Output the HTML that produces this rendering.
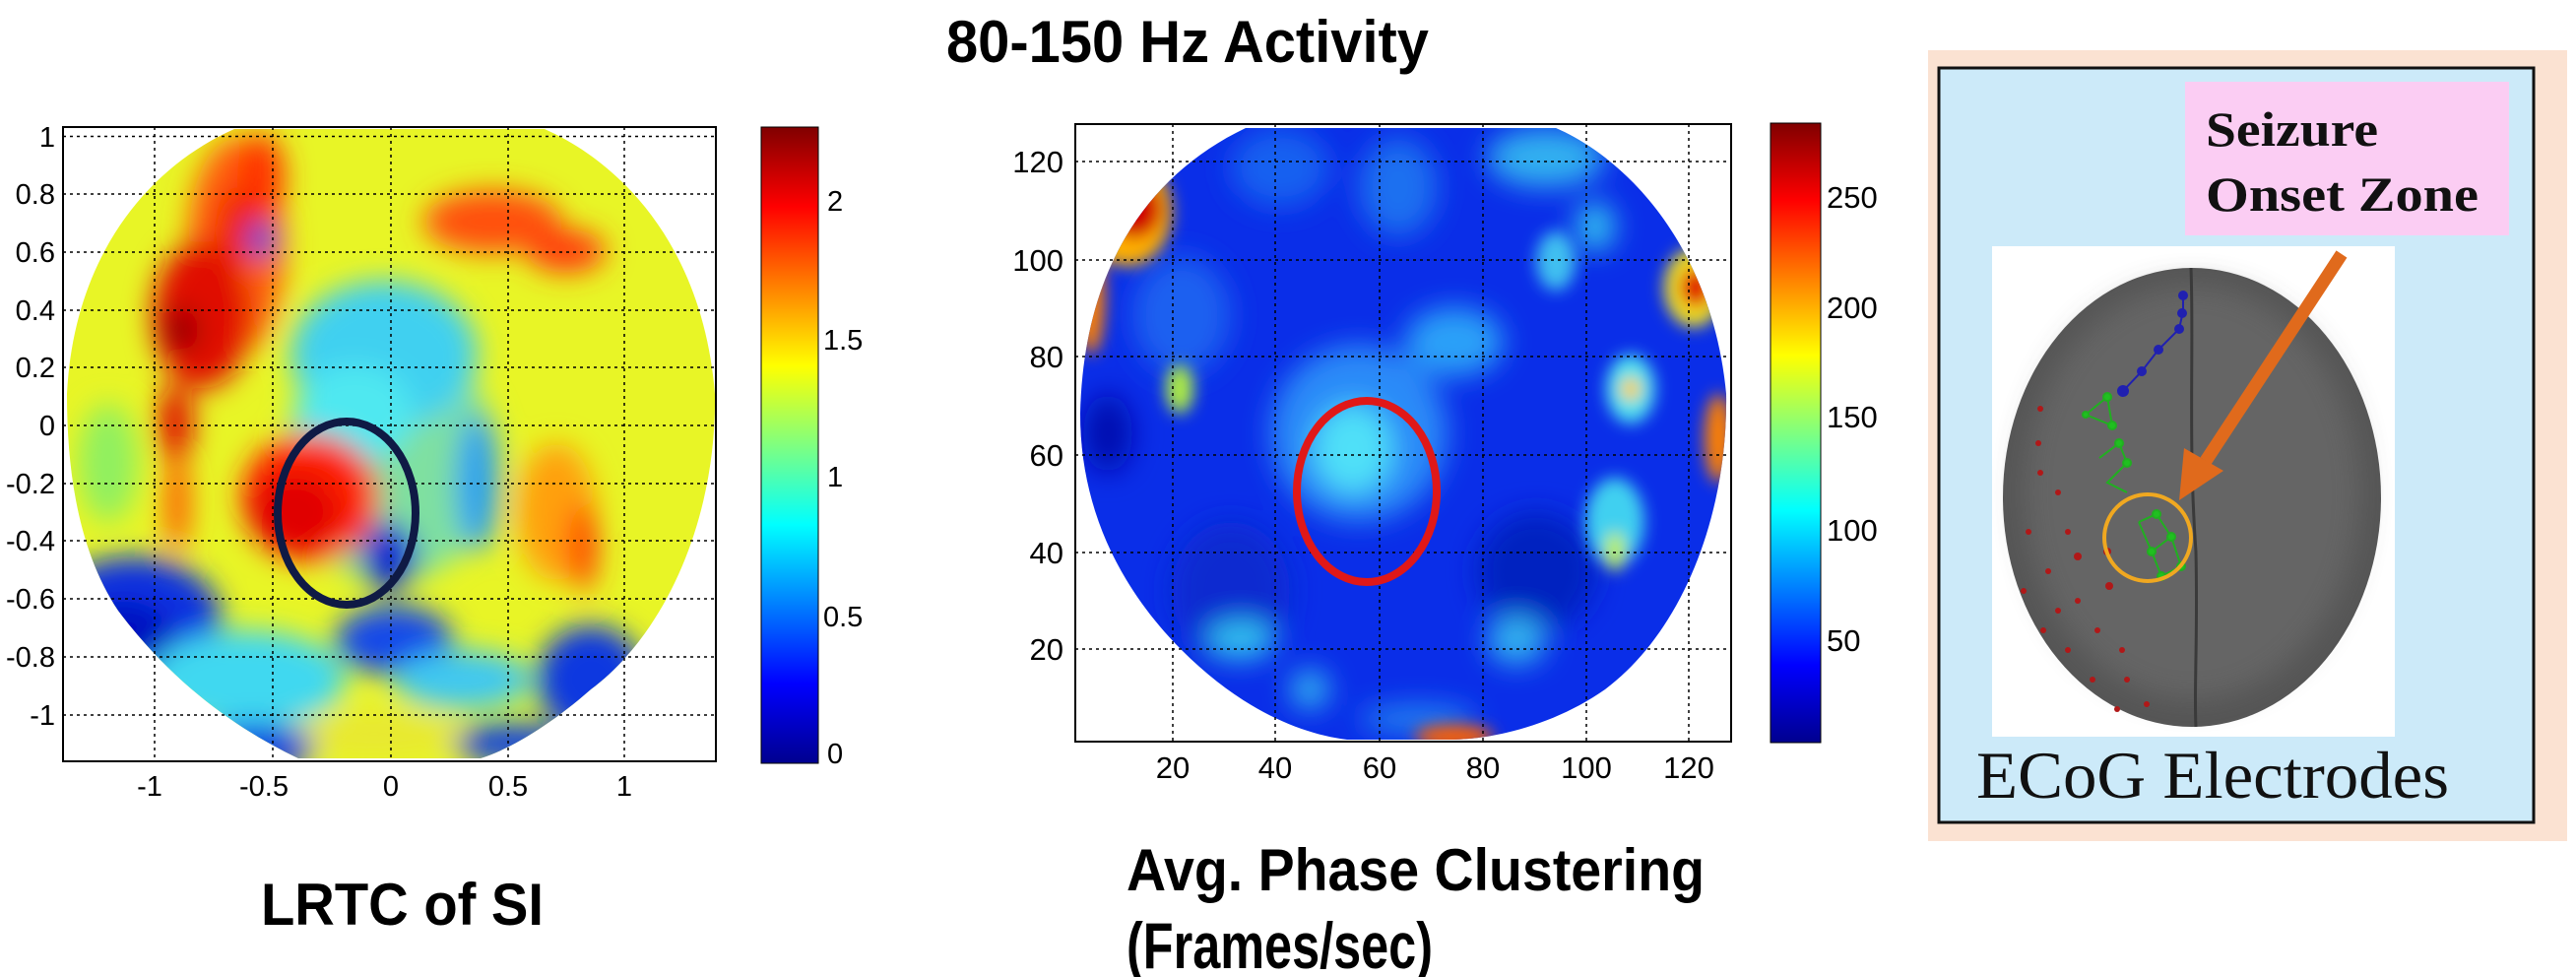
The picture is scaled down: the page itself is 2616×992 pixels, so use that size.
<!DOCTYPE html>
<html><head><meta charset="utf-8"><style>
html,body{margin:0;padding:0;background:#fff;}
svg{display:block;}
</style></head><body>
<svg width="2616" height="992" viewBox="0 0 2616 992" xmlns="http://www.w3.org/2000/svg">
<defs>
<linearGradient id="jet" x1="0" y1="1" x2="0" y2="0">
<stop offset="0" stop-color="#00008f"/><stop offset="0.125" stop-color="#0000ff"/>
<stop offset="0.375" stop-color="#00ffff"/><stop offset="0.625" stop-color="#ffff00"/>
<stop offset="0.875" stop-color="#ff0000"/><stop offset="1" stop-color="#800000"/>
</linearGradient>
<clipPath id="headL"><path d="M238,131 L553,131 C640,170 715,260 726,400 C728,520 680,640 600,700 C560,735 520,760 488,770 L303,770 C250,745 180,700 120,620 C80,560 68,480 68,400 C75,260 150,170 238,131 Z"/></clipPath>
<clipPath id="headM"><path d="M1265,130 L1580,130 C1660,165 1740,260 1753,400 C1755,520 1710,640 1630,700 C1580,735 1520,750 1477,751 L1368,751 C1320,745 1260,720 1200,660 C1140,600 1097,520 1097,420 C1100,280 1160,180 1265,130 Z"/></clipPath>
<filter id="bl" x="-20%" y="-20%" width="140%" height="140%"><feGaussianBlur stdDeviation="14"/></filter>
<filter id="bl2" x="-20%" y="-20%" width="140%" height="140%"><feGaussianBlur stdDeviation="8"/></filter>
</defs>

<text x="961" y="63" font-family="Liberation Sans, sans-serif" font-weight="bold" font-size="60" textLength="490" lengthAdjust="spacingAndGlyphs">80-150 Hz Activity</text>

<!-- LEFT PLOT -->
<g clip-path="url(#headL)">
<rect x="60" y="125" width="680" height="650" fill="#e8f526"/>
<g filter="url(#bl)">
<ellipse cx="397" cy="470" rx="110" ry="120" fill="#7fe0a0"/>
<ellipse cx="390" cy="360" rx="95" ry="75" fill="#40d0f0"/>
<ellipse cx="360" cy="420" rx="60" ry="50" fill="#50e8f0"/>
<ellipse cx="485" cy="490" rx="22" ry="70" fill="#2aa0f0"/>
<ellipse cx="240" cy="250" rx="50" ry="110" fill="#ff6010"/>
<ellipse cx="205" cy="320" rx="50" ry="75" fill="#e01000"/>
<ellipse cx="184" cy="335" rx="18" ry="22" fill="#900000"/>
<ellipse cx="265" cy="180" rx="24" ry="45" fill="#ff3000"/>
<ellipse cx="240" cy="230" rx="22" ry="40" fill="#f02000"/>
<ellipse cx="266" cy="243" rx="14" ry="18" fill="#1050e0"/>
<ellipse cx="178" cy="430" rx="18" ry="40" fill="#e01000"/>
<ellipse cx="180" cy="510" rx="12" ry="50" fill="#ff5000"/>
<ellipse cx="315" cy="505" rx="70" ry="65" fill="#ff2000"/>
<ellipse cx="300" cy="520" rx="45" ry="40" fill="#e00000"/>
<ellipse cx="395" cy="565" rx="28" ry="35" fill="#0020d0"/>
<ellipse cx="500" cy="225" rx="70" ry="32" fill="#ff5010"/>
<ellipse cx="575" cy="255" rx="40" ry="22" fill="#ff4010"/>
<ellipse cx="565" cy="520" rx="40" ry="70" fill="#ffa010"/>
<ellipse cx="592" cy="555" rx="14" ry="45" fill="#ff3000"/>
<ellipse cx="135" cy="630" rx="90" ry="65" fill="#1030e0"/>
<ellipse cx="125" cy="660" rx="55" ry="50" fill="#0008c0"/>
<ellipse cx="250" cy="690" rx="100" ry="50" fill="#40d8f0"/>
<ellipse cx="400" cy="650" rx="60" ry="35" fill="#1848e8"/>
<ellipse cx="470" cy="690" rx="70" ry="30" fill="#40c8f0"/>
<ellipse cx="600" cy="690" rx="55" ry="55" fill="#1038e0"/>
<ellipse cx="380" cy="745" rx="90" ry="22" fill="#e8e830"/>
<ellipse cx="260" cy="760" rx="60" ry="25" fill="#1040e0"/>
<ellipse cx="520" cy="755" rx="60" ry="20" fill="#1040e0"/>
<ellipse cx="110" cy="470" rx="30" ry="60" fill="#90f060"/>
</g>
</g>
<g stroke="#000" stroke-width="1.5" stroke-dasharray="3,4" fill="none">
<line x1="64" x2="727" y1="138.5" y2="138.5"/><line x1="64" x2="727" y1="197" y2="197"/><line x1="64" x2="727" y1="256" y2="256"/><line x1="64" x2="727" y1="315" y2="315"/><line x1="64" x2="727" y1="373" y2="373"/><line x1="64" x2="727" y1="432" y2="432"/><line x1="64" x2="727" y1="491" y2="491"/><line x1="64" x2="727" y1="549" y2="549"/><line x1="64" x2="727" y1="608" y2="608"/><line x1="64" x2="727" y1="667" y2="667"/><line x1="64" x2="727" y1="726" y2="726"/>
<line x1="157" x2="157" y1="129" y2="773"/><line x1="277" x2="277" y1="129" y2="773"/><line x1="397" x2="397" y1="129" y2="773"/><line x1="516" x2="516" y1="129" y2="773"/><line x1="634" x2="634" y1="129" y2="773"/>
</g>
<rect x="64" y="129" width="663" height="644" fill="none" stroke="#000" stroke-width="2"/>
<ellipse cx="352" cy="521" rx="70" ry="93" fill="none" stroke="#0f1a45" stroke-width="8"/>
<g font-family="Liberation Sans, sans-serif" font-size="29" fill="#000" text-anchor="end">
<text x="56" y="149">1</text><text x="56" y="207">0.8</text><text x="56" y="266">0.6</text><text x="56" y="325">0.4</text><text x="56" y="383">0.2</text><text x="56" y="442">0</text><text x="56" y="501">-0.2</text><text x="56" y="559">-0.4</text><text x="56" y="618">-0.6</text><text x="56" y="677">-0.8</text><text x="56" y="736">-1</text>
</g>
<g font-family="Liberation Sans, sans-serif" font-size="29" fill="#000" text-anchor="middle">
<text x="152" y="808">-1</text><text x="268" y="808">-0.5</text><text x="397" y="808">0</text><text x="516" y="808">0.5</text><text x="634" y="808">1</text>
</g>
<rect x="773" y="129" width="58" height="646" fill="url(#jet)" stroke="#000" stroke-width="1"/>
<g font-family="Liberation Sans, sans-serif" font-size="29" fill="#000">
<text x="840" y="214">2</text><text x="836" y="355">1.5</text><text x="840" y="494">1</text><text x="836" y="636">0.5</text><text x="840" y="775">0</text>
</g>
<text x="265" y="939" font-family="Liberation Sans, sans-serif" font-weight="bold" font-size="60" textLength="287" lengthAdjust="spacingAndGlyphs">LRTC  of SI</text>

<!-- MIDDLE PLOT -->
<g clip-path="url(#headM)">
<rect x="1090" y="125" width="680" height="640" fill="#0a2ee8"/>
<g filter="url(#bl)">
<ellipse cx="1380" cy="440" rx="90" ry="90" fill="#2a8af8"/>
<ellipse cx="1374" cy="456" rx="40" ry="45" fill="#50e0f8"/>
<ellipse cx="1477" cy="347" rx="50" ry="35" fill="#2aa0f8"/>
<ellipse cx="1200" cy="320" rx="50" ry="60" fill="#1a60f0"/>
<ellipse cx="1420" cy="190" rx="40" ry="50" fill="#1a70f0"/>
<ellipse cx="1300" cy="170" rx="50" ry="40" fill="#1860f0"/>
<ellipse cx="1570" cy="160" rx="60" ry="30" fill="#30b0f0"/>
<ellipse cx="1560" cy="580" rx="60" ry="60" fill="#0020c0"/>
<ellipse cx="1250" cy="600" rx="60" ry="70" fill="#0a2ad0"/>
<ellipse cx="1260" cy="650" rx="35" ry="20" fill="#30c0f0"/>
<ellipse cx="1540" cy="650" rx="30" ry="25" fill="#30b0f0"/>
<ellipse cx="1620" cy="230" rx="20" ry="25" fill="#30c0f0"/>
<ellipse cx="1125" cy="440" rx="25" ry="40" fill="#0010b0"/>
<ellipse cx="1330" cy="700" rx="20" ry="20" fill="#30b0f0"/>
<ellipse cx="1440" cy="730" rx="60" ry="15" fill="#2080f0"/>
</g>
<g filter="url(#bl2)">
<ellipse cx="1145" cy="215" rx="45" ry="55" fill="#ffb000"/>
<ellipse cx="1152" cy="212" rx="28" ry="30" fill="#d00000"/>
<ellipse cx="1108" cy="300" rx="14" ry="60" fill="#ff8000"/>
<ellipse cx="1198" cy="395" rx="14" ry="25" fill="#b0f040"/>
<ellipse cx="1720" cy="292" rx="30" ry="40" fill="#f0e020"/>
<ellipse cx="1722" cy="292" rx="16" ry="20" fill="#e00000"/>
<ellipse cx="1745" cy="445" rx="14" ry="45" fill="#ff8000"/>
<ellipse cx="1656" cy="395" rx="25" ry="35" fill="#50e0f0"/>
<ellipse cx="1656" cy="395" rx="10" ry="12" fill="#ffd000"/>
<ellipse cx="1640" cy="530" rx="30" ry="45" fill="#40d0f0"/>
<ellipse cx="1640" cy="560" rx="10" ry="20" fill="#c0f040"/>
<ellipse cx="1477" cy="748" rx="40" ry="12" fill="#ff6000"/>
<ellipse cx="1580" cy="265" rx="20" ry="30" fill="#40c0f0"/>
</g>
</g>
<g stroke="#000" stroke-width="1.5" stroke-dasharray="3,4" fill="none">
<line x1="1092" x2="1758" y1="164" y2="164"/><line x1="1092" x2="1758" y1="264" y2="264"/><line x1="1092" x2="1758" y1="362" y2="362"/><line x1="1092" x2="1758" y1="462" y2="462"/><line x1="1092" x2="1758" y1="561" y2="561"/><line x1="1092" x2="1758" y1="659" y2="659"/>
<line x1="1191" x2="1191" y1="126" y2="753"/><line x1="1295" x2="1295" y1="126" y2="753"/><line x1="1401" x2="1401" y1="126" y2="753"/><line x1="1506" x2="1506" y1="126" y2="753"/><line x1="1611" x2="1611" y1="126" y2="753"/><line x1="1715" x2="1715" y1="126" y2="753"/>
</g>
<rect x="1092" y="126" width="666" height="627" fill="none" stroke="#000" stroke-width="2"/>
<ellipse cx="1388" cy="499" rx="71" ry="92" fill="none" stroke="#e01818" stroke-width="8"/>
<g font-family="Liberation Sans, sans-serif" font-size="31" fill="#000" text-anchor="end">
<text x="1080" y="175">120</text><text x="1080" y="275">100</text><text x="1080" y="373">80</text><text x="1080" y="473">60</text><text x="1080" y="572">40</text><text x="1080" y="670">20</text>
</g>
<g font-family="Liberation Sans, sans-serif" font-size="31" fill="#000" text-anchor="middle">
<text x="1191" y="790">20</text><text x="1295" y="790">40</text><text x="1401" y="790">60</text><text x="1506" y="790">80</text><text x="1611" y="790">100</text><text x="1715" y="790">120</text>
</g>
<rect x="1798" y="125" width="51" height="629" fill="url(#jet)" stroke="#000" stroke-width="1"/>
<g font-family="Liberation Sans, sans-serif" font-size="31" fill="#000">
<text x="1855" y="211">250</text><text x="1855" y="323">200</text><text x="1855" y="434">150</text><text x="1855" y="549">100</text><text x="1855" y="661">50</text>
</g>
<text x="1144" y="904" font-family="Liberation Sans, sans-serif" font-weight="bold" font-size="60" textLength="587" lengthAdjust="spacingAndGlyphs">Avg. Phase Clustering</text>
<text x="1144" y="983" font-family="Liberation Sans, sans-serif" font-weight="bold" font-size="66" textLength="311" lengthAdjust="spacingAndGlyphs">(Frames/sec)</text>

<!-- RIGHT PANEL -->
<rect x="1958" y="51" width="649" height="803" fill="#fbe2d2"/>
<rect x="1969" y="69" width="604" height="766" fill="#cceaf9" stroke="#111" stroke-width="3"/>
<rect x="2219" y="83" width="329" height="156" fill="#fbcdf3"/>
<text x="2240" y="148" font-family="Liberation Serif, serif" font-weight="bold" font-size="50" fill="#111" textLength="175" lengthAdjust="spacingAndGlyphs">Seizure</text>
<text x="2240" y="214" font-family="Liberation Serif, serif" font-weight="bold" font-size="50" fill="#111" textLength="277" lengthAdjust="spacingAndGlyphs">Onset Zone</text>
<rect x="2023" y="250" width="409" height="498" fill="#ffffff"/>
<ellipse cx="2226" cy="505" rx="192" ry="233" fill="#555"/>
<ellipse cx="2226" cy="500" rx="170" ry="210" fill="#656565" filter="url(#bl)"/>
<path d="M2225,272 C2228,350 2222,450 2230,560 C2232,650 2228,700 2230,738" stroke="#3a3a3a" stroke-width="3" fill="none"/>
<g stroke="#2020b0" stroke-width="2" fill="#2020b0">
<polyline points="2217,296 2217,316 2213,334 2192,355 2175,377 2156,397" fill="none"/>
<circle cx="2217" cy="300" r="4"/><circle cx="2216" cy="318" r="4"/><circle cx="2213" cy="334" r="4"/><circle cx="2192" cy="355" r="4"/><circle cx="2175" cy="377" r="4"/><circle cx="2156" cy="397" r="5"/>
</g>
<g stroke="#20b020" stroke-width="2" fill="#20c020">
<polyline points="2118,421 2140,403 2145,432 2118,421" fill="none"/>
<polyline points="2132,465 2152,450 2160,470 2140,490 2160,500" fill="none"/>
<polyline points="2172,530 2190,522 2205,545 2185,560 2172,530" fill="none"/>
<polyline points="2185,560 2195,585 2215,575 2205,545" fill="none"/>
<circle cx="2140" cy="403" r="4"/><circle cx="2145" cy="432" r="4"/><circle cx="2118" cy="421" r="3"/><circle cx="2152" cy="450" r="4"/><circle cx="2160" cy="470" r="4"/><circle cx="2190" cy="522" r="4"/><circle cx="2205" cy="545" r="4"/><circle cx="2185" cy="560" r="4"/><circle cx="2195" cy="585" r="4"/><circle cx="2215" cy="575" r="4"/>
</g>
<g fill="#b01818">
<circle cx="2072" cy="415" r="3"/><circle cx="2070" cy="450" r="3"/><circle cx="2072" cy="480" r="3"/><circle cx="2090" cy="500" r="3"/><circle cx="2100" cy="540" r="3"/><circle cx="2110" cy="565" r="4"/><circle cx="2140" cy="560" r="4"/><circle cx="2142" cy="595" r="4"/><circle cx="2110" cy="610" r="3"/><circle cx="2130" cy="640" r="3"/><circle cx="2155" cy="660" r="3"/><circle cx="2160" cy="690" r="3"/><circle cx="2180" cy="715" r="3"/><circle cx="2090" cy="620" r="3"/><circle cx="2080" cy="580" r="3"/><circle cx="2060" cy="540" r="3"/><circle cx="2100" cy="660" r="3"/><circle cx="2125" cy="690" r="3"/><circle cx="2150" cy="720" r="3"/><circle cx="2055" cy="600" r="3"/><circle cx="2075" cy="640" r="3"/>
</g>
<circle cx="2181" cy="546" r="44" fill="none" stroke="#f0a820" stroke-width="4"/>
<line x1="2378" y1="258" x2="2240" y2="468" stroke="#e06a1c" stroke-width="13"/>
<polygon points="2213,508 2218,455 2258,478" fill="#e06a1c"/>
<text x="2007" y="810" font-family="Liberation Serif, serif" font-size="68" fill="#111" textLength="480" lengthAdjust="spacingAndGlyphs">ECoG Electrodes</text>
</svg>
</body></html>
